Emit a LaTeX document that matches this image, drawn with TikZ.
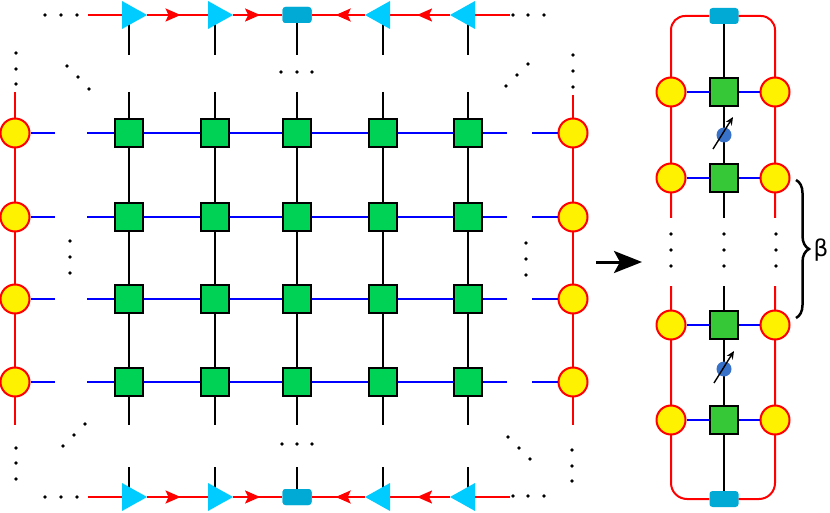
\documentclass[tikz,border=0pt]{standalone}
\usepackage{fontspec}
\newfontfamily\betafont{DejaVu Sans}
\usetikzlibrary{arrows.meta,decorations.markings,decorations.pathreplacing}
\definecolor{gA}{RGB}{0,210,85}
\definecolor{gB}{RGB}{55,200,55}
\definecolor{triC}{RGB}{0,204,255}
\definecolor{capC}{RGB}{0,170,212}
\definecolor{spinC}{RGB}{55,113,200}
\definecolor{lblue}{RGB}{0,0,255}
\definecolor{lred}{RGB}{255,0,0}
\tikzset{
  site/.style={circle, draw=lred, fill=yellow, line width=2pt, minimum size=29pt, inner sep=0},
  tens/.style={rectangle, draw=black, fill=gA, line width=2.6pt, minimum size=28pt, inner sep=0},
  tensB/.style={tens, fill=gB},
  capbox/.style={rectangle, rounded corners=3pt, fill=capC, minimum width=29pt, minimum height=16pt, inner sep=0},
  bond/.style={lblue, line width=2pt},
  leg/.style={black, line width=2.6pt},
  rline/.style={lred, line width=2pt},
  flow/.style={rline, postaction=decorate, decoration={markings, mark=at position 0.55 with {\arrow[lred]{Stealth[length=15pt,width=13pt,inset=3pt]}}}},
  spinball/.style={circle, fill=spinC, minimum size=15pt, inner sep=0},
  spinarrow/.style={black, line width=1.4pt, -{Stealth[length=8pt,width=7pt]}},
}
\begin{document}
\begin{tikzpicture}[x=1pt,y=-1pt]
\useasboundingbox (0,0) rectangle (830,513);

% ---------------- left network ----------------
\foreach \c/\x in {1/129,2/215,3/297,4/383,5/468}{
  \coordinate (vt\c) at (\x,92);
  \coordinate (vb\c) at (\x,425);
  \coordinate (st\c) at (\x,55);
  \coordinate (sb\c) at (\x,467);
  \coordinate (et\c) at (\x,15);
  \coordinate (eb\c) at (\x,497);
  \draw[leg] (vt\c) -- (vb\c);
  \draw[leg] (et\c) -- (st\c);
  \draw[leg] (sb\c) -- (eb\c);
}
\foreach \r/\y in {1/133,2/217,3/299,4/382}{
  \coordinate (ha\r) at (87,\y);
  \coordinate (hb\r) at (507,\y);
  \coordinate (la\r) at (55,\y);
  \coordinate (ra\r) at (532,\y);
  \draw[bond] (ha\r) -- (hb\r);
}
% red side lines
\coordinate (lt) at (15,92);  \coordinate (lb) at (15,425);
\coordinate (rt) at (573,95); \coordinate (rb) at (573,425);
\draw[rline] (lt) -- (lb);
\draw[rline] (rt) -- (rb);
\foreach \r/\y in {1/133,2/217,3/299,4/382}{
  \node[site] (L\r) at (15,\y) {};
  \node[site] (R\r) at (573,\y) {};
  \draw[bond] (L\r) -- (la\r);
  \draw[bond] (ra\r) -- (R\r);
}
\foreach \c/\x in {1/129,2/215,3/297,4/383,5/468}{
  \foreach \r/\y in {1/133,2/217,3/299,4/382}{
    \node[tens] (p\c\r) at (\x,\y) {};
  }
}

% ---------------- top and bottom boundary rows ----------------
\foreach \row/\y in {t/15,b/497}{
  \coordinate (\row0) at (88,\y);
  \coordinate (\row9) at (510,\y);
  % right-pointing triangles
  \coordinate (\row1b) at (122,\y); \coordinate (\row1a) at (147,\y);
  \coordinate (\row2b) at (208,\y); \coordinate (\row2a) at (233,\y);
  % left-pointing triangles
  \coordinate (\row3a) at (365,\y); \coordinate (\row3b) at (390,\y);
  \coordinate (\row4a) at (450,\y); \coordinate (\row4b) at (475,\y);
  \node[capbox] (\row C) at (297,\y) {};
  \draw[rline] (\row0) -- (\row1b);
  \draw[flow] (\row1a) -- (\row2b);
  \draw[flow] (\row2a) -- (\row C);
  \draw[flow] (\row3a) -- (\row C);
  \draw[flow] (\row4a) -- (\row3b);
  \draw[rline] (\row4b) -- (\row9);
  \fill[triC] (\row1b) ++(0,-14) -- (\row1a) -- ++(-25,14) -- cycle;
  \fill[triC] (\row2b) ++(0,-14) -- (\row2a) -- ++(-25,14) -- cycle;
  \fill[triC] (\row3b) ++(0,-14) -- (\row3a) -- ++(25,14) -- cycle;
  \fill[triC] (\row4b) ++(0,-14) -- (\row4a) -- ++(25,14) -- cycle;
}
\node[capbox] at (tC) {};
\node[capbox] at (bC) {};

% ---------------- dots ----------------
\foreach \p in {
  (45,15),(61,15),(77,15), (513,15),(528,15),(544,15),
  (16,53),(16,69),(16,84), (67,66),(78,77),(89,89),
  (281,72),(297,72),(312,72),
  (506,86),(517,75),(528,64), (573,55),(573,71),(573,87),
  (70,241),(70,257),(70,273), (526,243),(526,259),(526,275),
  (16,448),(16,463),(16,479), (63,446),(74,435),(85,424),
  (282,444),(297,444),(312,444),
  (508,437),(519,448),(530,459), (572,450),(572,466),(572,481),
  (45,497),(61,497),(77,497), (513,496),(528,496),(544,496)}
  \fill \p circle (1.8);

% ---------------- big arrow ----------------
\coordinate (ga) at (596,262);
\coordinate (gb) at (642,262);
\draw[line width=3pt, -{Stealth[length=28pt,width=22pt,inset=6pt]}] (ga) -- (gb);

% ---------------- right column ----------------
\node[capbox] (cT) at (724,16) {};
\node[capbox] (cB) at (724,499) {};
\coordinate (m1) at (724,218);
\coordinate (m2) at (724,286);
\draw[leg] (cT) -- (m1);
\draw[leg] (m2) -- (cB);
\draw[rline, rounded corners=14pt] (cT.west) -- (671,16) -- (671,218);
\draw[rline, rounded corners=14pt] (cT.east) -- (775,16) -- (775,218);
\draw[rline, rounded corners=16pt] (671,286) -- (671,499) -- (cB.west);
\draw[rline, rounded corners=16pt] (775,286) -- (775,499) -- (cB.east);
\foreach \r/\y in {1/92,2/178,3/325,4/420}{
  \node[site] (A\r) at (671,\y) {};
  \node[site] (C\r) at (775,\y) {};
  \node[tensB] (B\r) at (724,\y) {};
  \draw[bond] (A\r) -- (B\r);
  \draw[bond] (B\r) -- (C\r);
}
\node[spinball] (s1) at (724,135) {};
\node[spinball] (s2) at (724,369) {};
\coordinate (s1a) at (713,149); \coordinate (s1b) at (733,117);
\coordinate (s2a) at (714,383); \coordinate (s2b) at (734,351);
\draw[spinarrow] (s1a) -- (s1b);
\draw[spinarrow] (s2a) -- (s2b);
\foreach \x in {671,724,776}{
  \foreach \y in {234,250,266} \fill (\x,\y) circle (1.8);
}

% ---------------- brace and beta ----------------
\coordinate (ba) at (796,180);
\coordinate (bb) at (796,318);
\draw[line width=2.5pt, decorate, decoration={brace, amplitude=13pt}] (ba) -- (bb);
\node[font=\betafont\fontsize{23}{26}\selectfont, inner sep=0] (beta) at (821,250) {β};
\end{tikzpicture}
\end{document}
